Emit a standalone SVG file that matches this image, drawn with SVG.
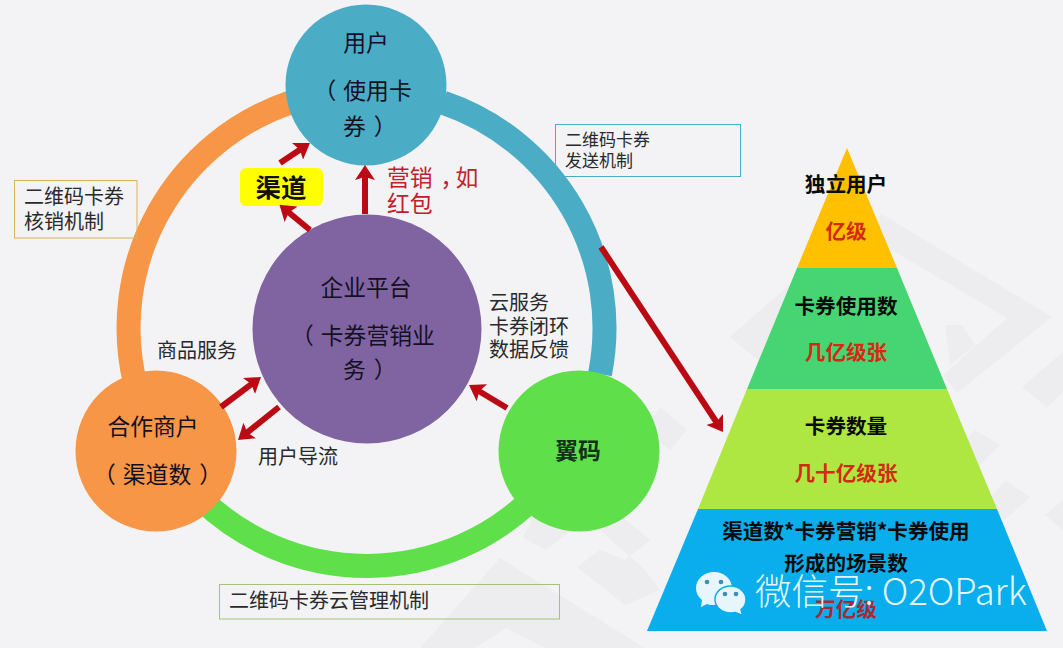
<svg xmlns="http://www.w3.org/2000/svg" width="1063" height="648" viewBox="0 0 1063 648">
<style>
text{font-family:"Noto Sans CJK SC","Liberation Sans",sans-serif;fill:#111}
.n{font-size:22.8px;text-anchor:middle;fill:#14101f}
.o{font-size:22.8px;fill:#14101f}
.l{font-size:20px;fill:#2a2a2a}
.s{font-size:17px;fill:#2a2a2a}
.p{font-size:20.6px;font-weight:700;text-anchor:middle;fill:#0a0a0a}
.r{font-size:20.6px;font-weight:700;text-anchor:middle;fill:#d42a12}
.a{fill:none;stroke-width:24}
.c{stroke:#bc0a14;stroke-width:6;fill:none;marker-end:url(#h)}
.w{fill:#ededef}
.b{fill:none;stroke-width:1}
.d{fill:#3a8fb5}
.m{fill:#c0202a;font-size:22.8px}
</style>
<defs><marker id="h" markerUnits="userSpaceOnUse" viewBox="0 0 15 20" markerWidth="15" markerHeight="20" refX="6" refY="10" orient="auto"><path d="M0,0L15,10L0,20L3,10z" fill="#bc0a14"/></marker></defs>
<rect width="1063" height="648" fill="#f3f3f5"/>
<g id="bg">
<polygon class="w" points="880,213 1052,317 957,393 943,375 1007,318 875,240"/>
<polygon class="w" points="730,337 800,275 820,300 760,362"/>
<polygon class="w" points="945,325 962,325 975,345 950,365"/>
<polygon class="w" points="1063,352 1022,387 1047,407 1063,392"/>
<polygon class="w" points="975,430 1000,445 975,470 955,455"/>
<polygon class="w" points="1005,480 1030,497 1005,520 985,505"/>
<polygon class="w" points="1063,500 1045,515 1063,530"/>
<polygon class="w" points="660,407 687,430 670,450 645,430"/>
<polygon class="w" points="500,558 645,648 545,648 506,628 475,648 420,648"/>
<polygon class="w" points="523,537 545,550 575,528 540,505"/>
<polygon class="w" points="577,567 600,550 625,560 650,540 620,515 600,530 645,570 660,590 625,605"/>
</g>
<g id="ring">
<path class="a" stroke="#f79646" d="M290,102.6A238,238 0 0 0 135,383"/>
<path class="a" stroke="#4bacc6" d="M443,102.6A238,238 0 0 1 600,374"/>
<path class="a" stroke="#5fe04a" d="M200,498A238,238 0 0 0 535,496"/>
</g>
<g id="user"><circle cx="366" cy="85" r="80.5" fill="#4bacc6"/><text class="n" x="366" y="51">用户</text><text class="o" x="313.5" y="99">（<tspan dx="7">使用卡</tspan></text><text class="o" x="343" y="135">券<tspan dx="8">）</tspan></text></g>
<g id="platform"><circle cx="367" cy="329" r="114.5" fill="#8064a2"/><text class="n" x="366" y="296">企业平台</text><text class="o" x="291" y="344">（<tspan dx="7">卡券营销业</tspan></text><text class="o" x="343" y="378">务<tspan dx="8">）</tspan></text></g>
<g id="merchant"><circle cx="156" cy="451" r="80.5" fill="#f79646"/><text class="n" x="153" y="435">合作商户</text><text class="o" x="93" y="483">（<tspan dx="7">渠道数</tspan><tspan dx="8">）</tspan></text></g>
<g id="yima"><circle cx="579" cy="451" r="80.5" fill="#5fe04a"/><text class="n" x="578" y="459" font-weight="700" style="fill:#12301a">翼码</text></g>
<g id="channel"><rect x="240" y="168" width="83" height="38" rx="6" fill="#ffff00"/><text x="281" y="197" font-size="25.5" font-weight="700" text-anchor="middle">渠道</text></g>
<g id="connectors">
<line class="c" x1="280" y1="163" x2="302.5" y2="148"/>
<line class="c" x1="310" y1="230" x2="286.4" y2="210.5"/>
<line class="c" x1="365" y1="214" x2="365" y2="174"/>
<line class="c" x1="221" y1="407" x2="253.8" y2="382.4"/>
<line class="c" x1="279" y1="407" x2="245" y2="434.3"/>
<line class="c" x1="507" y1="408" x2="476.7" y2="389.7"/>
<line class="c" x1="601" y1="247" x2="718" y2="424.5"/>
</g>
<g id="label-marketing"><text class="m" x="387" y="186" style="fill:#c0202a">营销<tspan dx="8" style="fill:#c0202a">，</tspan><tspan dx="-8" style="fill:#c0202a">如</tspan></text><text class="m" x="387" y="212" style="fill:#c0202a">红包</text></g>
<g id="label-verify"><rect class="b" x="14.5" y="180.5" width="122.5" height="57.5" stroke="#d8b45a"/><text class="l" x="24" y="204">二维码卡券</text><text class="l" x="24" y="229">核销机制</text></g>
<g id="label-send"><rect class="b" x="555.5" y="124.5" width="185" height="52" stroke="#4bacc6"/><text class="s" x="565" y="146">二维码卡券</text><text class="s" x="565" y="167">发送机制</text></g>
<g id="label-cloud"><rect class="b" x="219.5" y="584.5" width="340" height="34.5" stroke="#a8c07a"/><text class="l" x="229" y="608">二维码卡券云管理机制</text></g>
<g id="labels">
<text class="l" x="157" y="358">商品服务</text>
<text class="l" x="258" y="464">用户导流</text>
<text class="l" x="489" y="310">云服务</text>
<text class="l" x="489" y="334">卡券闭环</text>
<text class="l" x="489" y="357">数据反馈</text>
</g>
<g id="pyramid">
<polygon points="847,148 897,268 797,268" fill="#ffc000"/>
<polygon points="797,268 897,268 947,389 747,389" fill="#47d574"/>
<polygon points="747,389 947,389 997,509 698,509" fill="#aee741"/>
<polygon points="698,509 997,509 1047,631 647,631" fill="#0aaeec"/>
<text class="p" x="846" y="192">独立用户</text>
<text class="r" x="846" y="239">亿级</text>
<text class="p" x="846" y="314">卡券使用数</text>
<text class="r" x="846" y="360">几亿级张</text>
<text class="p" x="846" y="434">卡券数量</text>
<text class="r" x="846" y="481">几十亿级张</text>
<text class="p" x="846" y="539">渠道数*卡券营销*卡券使用</text>
<text class="p" x="846" y="571">形成的场景数</text>
<text class="r" x="846" y="617" style="fill:#a52a35">万亿级</text>
</g>
<g id="watermark">
<path d="M714,572c10,0 18,7 18,16c0,9 -8,17 -18,17c-3,0 -5,0 -7,-1l-6,3l1,-7c-4,-3 -6,-7 -6,-12c0,-9 8,-16 18,-16z" fill="#e6f6fc"/>
<path d="M730.500,586c8.500,0 15.500,6 15.500,13.500c0,4 -2,8 -5,10l1.500,6l-7,-3c-1.500,.5 -3.500,.5 -5,.5c-8.500,0 -15.500,-6 -15.500,-13.500c0,-7.500 7,-13.500 15.500,-13.500z" fill="#e6f6fc" stroke="#0aaeec" stroke-width="1.500"/>
<circle class="d" cx="707" cy="582" r="2.300"/><circle class="d" cx="721" cy="582" r="2.300"/><circle class="d" cx="725" cy="594" r="2.300"/><circle class="d" cx="736" cy="594" r="2.300"/>
<text x="755" y="605" font-size="36.500" font-weight="300" style="fill:#fff;fill-opacity:.92">微信号: O2OPark</text>
</g>
</svg>
